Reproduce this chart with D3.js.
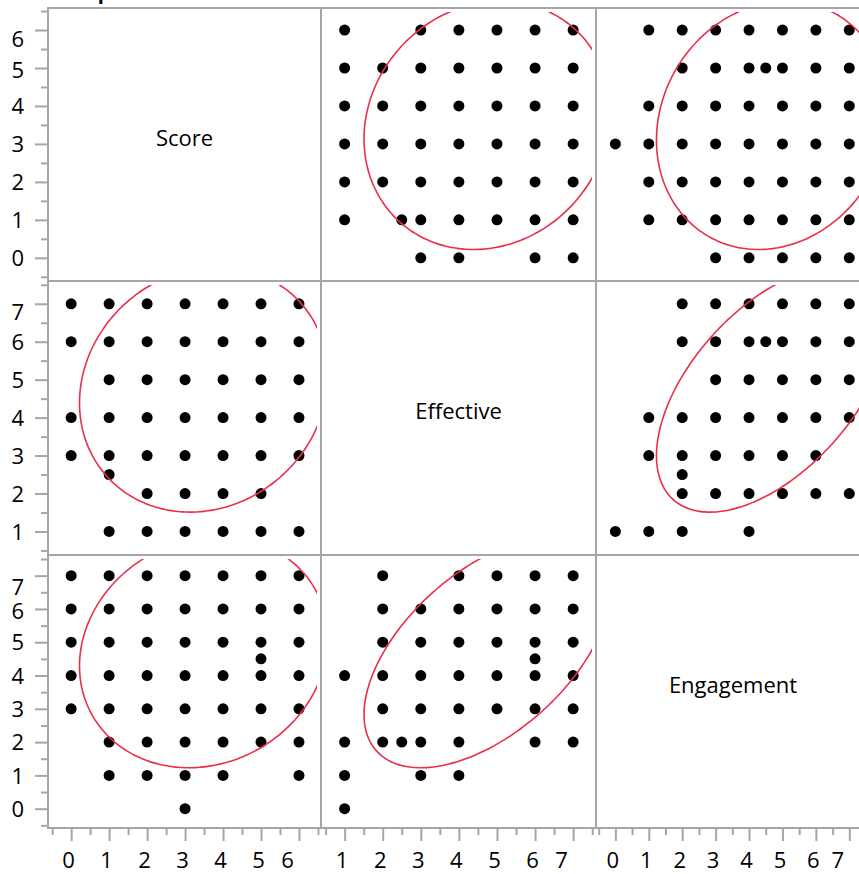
<!DOCTYPE html>
<html><head><meta charset="utf-8">
<script src="https://cdn.jsdelivr.net/npm/d3@7"></script>
<style>
html,body{margin:0;padding:0;background:#fff;overflow:hidden;}
svg{display:block;font-family:"Open Sans",sans-serif;}
</style></head><body>
<svg id="chart" width="859" height="874"></svg>
<script>
// ---------------- data ----------------
const title = "Scatterplot Matrix";
const variables = ["Score", "Effective", "Engagement"];
const axisDomains = [[-0.61, 6.58], [0.38, 7.6], [-0.58, 7.62]];
const majorTicks = [
  [0, 1, 2, 3, 4, 5, 6],
  [1, 2, 3, 4, 5, 6, 7],
  [0, 1, 2, 3, 4, 5, 6, 7]
];
const minorTicks = [
  [-0.5, 0.5, 1.5, 2.5, 3.5, 4.5, 5.5, 6.5],
  [0.5, 1.5, 2.5, 3.5, 4.5, 5.5, 6.5, 7.5],
  [-0.5, 0.5, 1.5, 2.5, 3.5, 4.5, 5.5, 6.5, 7.5]
];

// [Score, Effective]
const scoreEffective = [
  [0,7],[1,7],[2,7],[3,7],[4,7],[5,7],[6,7],
  [0,6],[1,6],[2,6],[3,6],[4,6],[5,6],[6,6],
  [1,5],[2,5],[3,5],[4,5],[5,5],[6,5],
  [0,4],[1,4],[2,4],[3,4],[4,4],[5,4],[6,4],
  [0,3],[1,3],[2,3],[3,3],[4,3],[5,3],[6,3],
  [1,2.5],
  [2,2],[3,2],[4,2],[5,2],
  [1,1],[2,1],[3,1],[4,1],[5,1],[6,1]
];
// [Score, Engagement]
const scoreEngagement = [
  [0,7],[1,7],[2,7],[3,7],[4,7],[5,7],[6,7],
  [0,6],[1,6],[2,6],[3,6],[4,6],[5,6],[6,6],
  [0,5],[1,5],[2,5],[3,5],[4,5],[5,5],[6,5],
  [5,4.5],
  [0,4],[1,4],[2,4],[3,4],[4,4],[5,4],[6,4],
  [0,3],[1,3],[2,3],[3,3],[4,3],[5,3],[6,3],
  [1,2],[2,2],[3,2],[4,2],[5,2],[6,2],
  [1,1],[2,1],[3,1],[4,1],[6,1],
  [3,0]
];
// [Effective, Engagement]
const effectiveEngagement = [
  [2,7],[4,7],[5,7],[6,7],[7,7],
  [2,6],[3,6],[4,6],[5,6],[6,6],[7,6],
  [2,5],[3,5],[4,5],[5,5],[6,5],[7,5],
  [6,4.5],
  [1,4],[2,4],[3,4],[4,4],[5,4],[6,4],[7,4],
  [2,3],[3,3],[4,3],[5,3],[6,3],[7,3],
  [1,2],[2,2],[2.5,2],[3,2],[4,2],[6,2],[7,2],
  [1,1],[3,1],[4,1],
  [1,0]
];

// density ellipse parameters (centre, half-extent per variable, correlation per pair)
const ellipseCenters = [3.49, 4.74, 4.70];
const ellipseHalfWidths = [3.27, 3.23, 3.47];
const pairCorrelations = [
  [1, 0.11, 0.12],
  [0.11, 1, 0.54],
  [0.12, 0.54, 1]
];

// ---------------- layout ----------------
const colEdges = [48, 321, 596, 870];
const rowEdges = [8, 281, 555, 828];
const frameColor = "#a6a6a6";
const ellipseColor = "#e8304a";
const fontSize = 22;
const topLabelShift = [16.7, 15.7, 19];   // JMP pushes the top label inside the frame
const ellipseInset = 4;

const svg = d3.select("#chart");

const xScales = variables.map((v, i) =>
  d3.scaleLinear().domain(axisDomains[i]).range([colEdges[i], colEdges[i + 1]]));
const yScales = variables.map((v, i) =>
  d3.scaleLinear().domain(axisDomains[i]).range([rowEdges[i + 1], rowEdges[i]]));

function pairPoints(xi, yi) {
  const key = [xi, yi].sort().join("");
  let base, flip;
  if (key === "01") { base = scoreEffective; flip = xi !== 0; }
  else if (key === "02") { base = scoreEngagement; flip = xi !== 0; }
  else { base = effectiveEngagement; flip = xi !== 1; }
  return base.map(d => flip ? [d[1], d[0]] : [d[0], d[1]]);
}

// title (mostly above the visible area, as in the reference)
svg.append("text")
  .attr("x", 26).attr("y", -1)
  .attr("font-weight", "bold").attr("font-size", 20)
  .attr("fill", "#000")
  .text(title);

const defs = svg.append("defs");

for (let r = 0; r < 3; r++) {
  for (let c = 0; c < 3; c++) {
    const x0 = colEdges[c], x1 = colEdges[c + 1], y0 = rowEdges[r], y1 = rowEdges[r + 1];
    const g = svg.append("g");
    const clipId = `clip-${r}-${c}`;
    defs.append("clipPath").attr("id", clipId)
      .append("rect").attr("x", x0).attr("y", y0).attr("width", x1 - x0).attr("height", y1 - y0);
    const clipIdE = `clipe-${r}-${c}`;
    defs.append("clipPath").attr("id", clipIdE)
      .append("rect").attr("x", x0 + ellipseInset).attr("y", y0 + ellipseInset)
      .attr("width", x1 - x0 - 2 * ellipseInset).attr("height", y1 - y0 - 2 * ellipseInset);

    if (r === c) {
      g.append("text")
        .attr("x", (x0 + x1) / 2).attr("y", (y0 + y1) / 2 + 1)
        .attr("text-anchor", "middle")
        .attr("font-size", fontSize).attr("fill", "#000")
        .text(variables[r]);
      continue;
    }
    const xs = xScales[c], ys = yScales[r];
    const pts = pairPoints(c, r);
    const inner = g.append("g").attr("clip-path", `url(#${clipId})`);
    inner.selectAll("circle").data(pts).join("circle")
      .attr("cx", d => xs(d[0])).attr("cy", d => ys(d[1]))
      .attr("r", 5.5).attr("fill", "#000");

    // density ellipse
    const rho = pairCorrelations[c][r];
    const mx = ellipseCenters[c], my = ellipseCenters[r];
    const ax = ellipseHalfWidths[c], ay = ellipseHalfWidths[r];
    const s = Math.sqrt(1 - rho * rho);
    const ts = d3.range(0, 360, 2).map(t => t * Math.PI / 180);
    const line = d3.line()
      .x(t => xs(mx + ax * Math.cos(t)))
      .y(t => ys(my + ay * (rho * Math.cos(t) + s * Math.sin(t))))
      .curve(d3.curveCardinalClosed);
    g.append("g").attr("clip-path", `url(#${clipIdE})`)
      .append("path").attr("d", line(ts))
      .attr("fill", "none").attr("stroke", ellipseColor).attr("stroke-width", 1.6);
  }
}

// frame grid
const frame = svg.append("g").attr("stroke", frameColor).attr("stroke-width", 2).attr("fill", "none");
colEdges.forEach(x => frame.append("line").attr("x1", x).attr("x2", x).attr("y1", rowEdges[0]).attr("y2", rowEdges[3] + 1));
rowEdges.forEach(y => frame.append("line").attr("x1", colEdges[0] - 1).attr("x2", colEdges[3]).attr("y1", y).attr("y2", y));

// left axes
for (let r = 0; r < 3; r++) {
  const ys = yScales[r];
  const minor = svg.append("g").attr("transform", `translate(${colEdges[0] - 1},0)`)
    .call(d3.axisLeft(ys).tickValues(minorTicks[r]).tickSize(6).tickFormat(""));
  const major = svg.append("g").attr("transform", `translate(${colEdges[0] - 1},0)`)
    .call(d3.axisLeft(ys).tickValues(majorTicks[r]).tickSize(12).tickPadding(11).tickFormat(d3.format("d")));
  [minor, major].forEach(ax => {
    ax.select(".domain").remove();
    ax.selectAll(".tick line").attr("stroke", frameColor).attr("stroke-width", 2);
  });
  const last = majorTicks[r][majorTicks[r].length - 1];
  major.selectAll(".tick text")
    .attr("font-size", fontSize).attr("font-family", "Open Sans, sans-serif").attr("fill", "#000")
    .attr("dy", null)
    .attr("y", d => d === last ? topLabelShift[r] : (d === last - 1 && r !== 1 ? 2 + 7.7 : 7.7));
}

// bottom axes
for (let c = 0; c < 3; c++) {
  const xs = xScales[c];
  const minor = svg.append("g").attr("transform", `translate(0,${rowEdges[3] + 1})`)
    .call(d3.axisBottom(xs).tickValues(minorTicks[c]).tickSize(6).tickFormat(""));
  const major = svg.append("g").attr("transform", `translate(0,${rowEdges[3] + 1})`)
    .call(d3.axisBottom(xs).tickValues(majorTicks[c]).tickSize(12).tickPadding(12).tickFormat(d3.format("d")));
  [minor, major].forEach(ax => {
    ax.select(".domain").remove();
    ax.selectAll(".tick line").attr("stroke", frameColor).attr("stroke-width", 2);
  });
  const last = majorTicks[c][majorTicks[c].length - 1];
  major.selectAll(".tick text")
    .attr("font-size", fontSize).attr("font-family", "Open Sans, sans-serif").attr("fill", "#000")
    .attr("dy", null).attr("y", 39)
    .attr("dx", d => d === last ? -12 : -3);
}
</script>
</body></html>
